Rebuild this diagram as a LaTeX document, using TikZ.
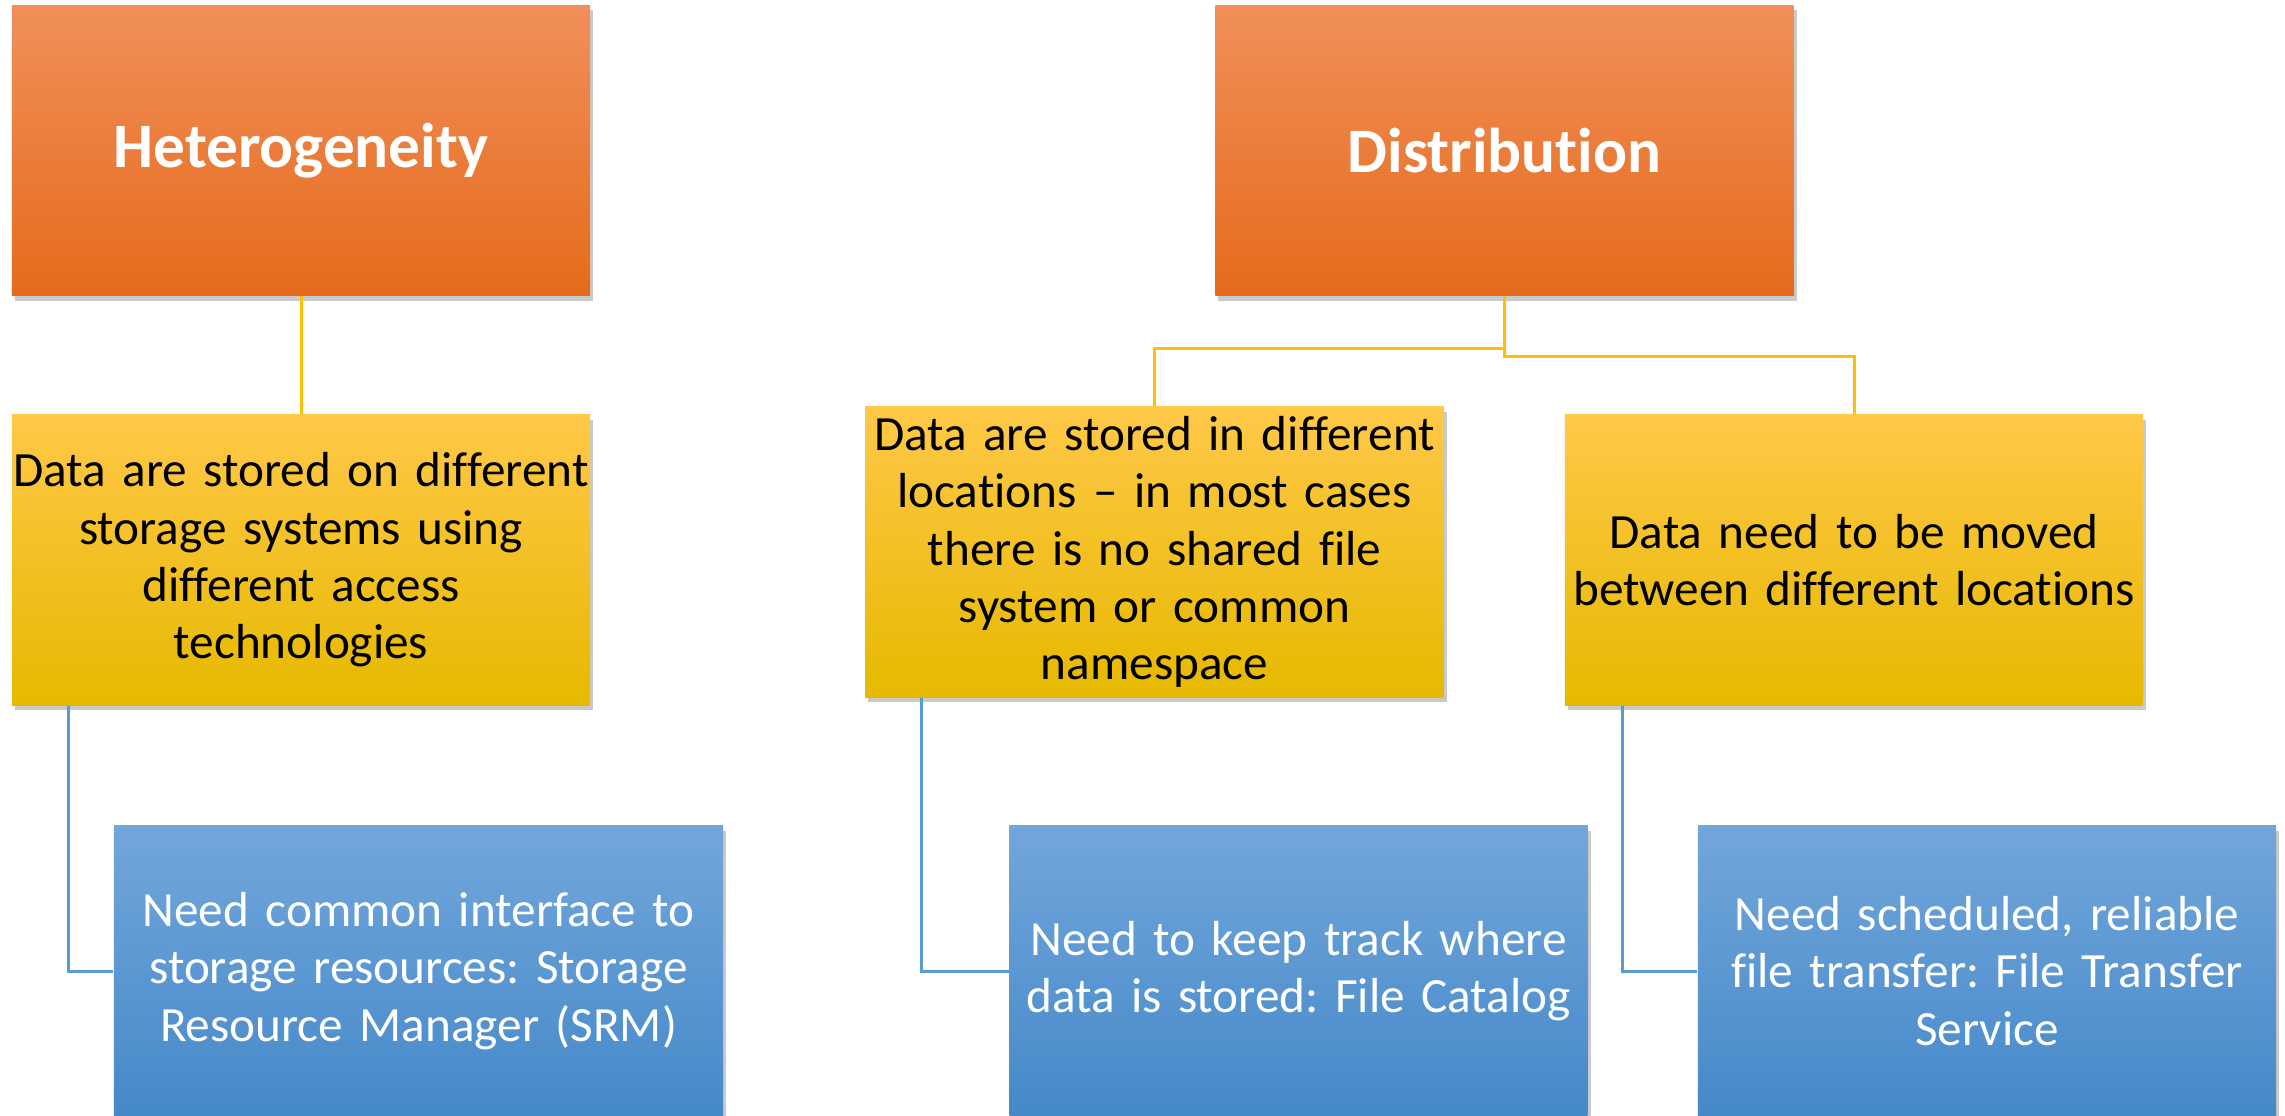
\documentclass[tikz,border=0pt]{standalone}
\usepackage{fontspec}
\setmainfont{Carlito}[RawFeature={-liga;-clig;-calt;-dlig}]
\frenchspacing
\usetikzlibrary{positioning,shadows}
\definecolor{orangetop}{RGB}{241,143,90}
\definecolor{orangemid}{RGB}{243,125,42}
\definecolor{orangebot}{RGB}{229,107,27}
\definecolor{goldtop}{RGB}{255,200,72}
\definecolor{goldmid}{RGB}{255,193,8}
\definecolor{goldbot}{RGB}{230,185,0}
\definecolor{bluetop}{RGB}{115,166,219}
\definecolor{bluemid}{RGB}{88,152,214}
\definecolor{bluebot}{RGB}{68,137,201}
\definecolor{linegold}{RGB}{255,192,0}
\definecolor{lineblue}{RGB}{91,155,213}
\tikzset{
  % base box
  box/.style={
    minimum width=5.78cm,
    minimum height=2.9cm,
    text width=5.78cm,
    inner sep=0pt,
    align=center,
    drop shadow={shadow xshift=0.03cm, shadow yshift=-0.05cm, opacity=0.3, fill=black!70}
  },
  % top level
  topic/.style={box, top color=orangetop, middle color=orangemid, bottom color=orangebot,
    text=white, font=\fontsize{18}{22}\selectfont\bfseries},
  % second level
  issue/.style={box, top color=goldtop, middle color=goldmid, bottom color=goldbot,
    text=black, font=\fontsize{14}{16.3}\selectfont},
  % third level
  need/.style={box, top color=bluetop, middle color=bluemid, bottom color=bluebot,
    text=white, font=\fontsize{14}{16.3}\selectfont},
  % connectors
  goldline/.style={draw=linegold, line width=0.03cm},
  blueline/.style={draw=lineblue, line width=0.03cm},
}
\begin{document}
\begin{tikzpicture}[x=0.01cm, y=-0.01cm]
    \useasboundingbox (0,0) rectangle (2285,1115);
    \clip (0,0) rectangle (2285,1115);

    % top row
    \node[topic] (hetero) at (301,150.5) {Heterogeneity};
    \node[topic] (distrib) at (1504.5,150.5) {Distribution};

    % middle row
    \node[issue] (diffsys) at (301,560) {Data are stored on different\\storage systems using\\different access\\technologies};
    \node[issue] (diffloc) at (1154.5,552) {Data are stored in different\\locations -- in most cases\\there is no shared file\\system or common\\namespace};
    \node[issue] (moved) at (1854,560) {Data need to be moved\\between different locations};

    % bottom row
    \node[need, minimum width=6.09cm, text width=6.09cm] (srm) at (418.5,971) {Need common interface to\\storage resources: Storage\\Resource Manager (SRM)};
    \node[need] (catalog) at (1298.5,971) {Need to keep track where\\data is stored: File Catalog};
    \node[need] (fts) at (1987,971) {Need scheduled, reliable\\file transfer: File Transfer\\Service};

    % links
    \draw[goldline] (hetero.south) -- (diffsys.north);
    \draw[goldline] (distrib.south) -- ++(0,52) -| (diffloc.north);
    \draw[goldline] (distrib.south) -- ++(0,60) -| (moved.north);
    \draw[blueline] ([xshift=0.57cm]diffsys.south west) |- (srm.west);
    \draw[blueline] ([xshift=0.57cm]diffloc.south west) |- (catalog.west);
    \draw[blueline] ([xshift=0.58cm]moved.south west) |- (fts.west);
\end{tikzpicture}
\end{document}
